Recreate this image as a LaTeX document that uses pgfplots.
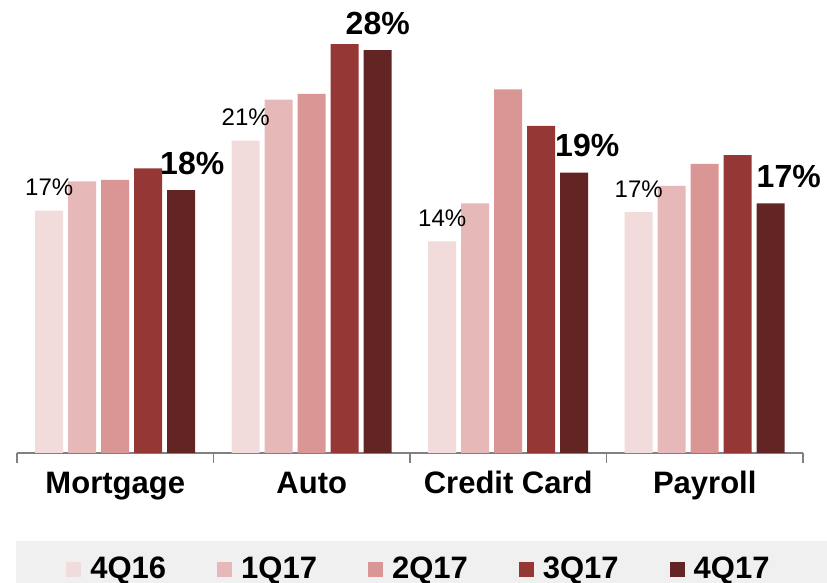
\documentclass[border=0pt]{standalone}
\usepackage{pgfplots}
\pgfplotsset{compat=1.18}
\usepackage{fontspec}
\setmainfont{Liberation Sans}
\definecolor{c1}{RGB}{242,220,219}
\definecolor{c2}{RGB}{230,184,183}
\definecolor{c3}{RGB}{218,150,148}
\definecolor{c4}{RGB}{149,55,53}
\definecolor{c5}{RGB}{99,37,35}
\definecolor{legbg}{RGB}{240,240,240}
\definecolor{axgray}{RGB}{128,128,128}
\begin{document}
\begin{tikzpicture}
\useasboundingbox (0,0) rectangle (413.5pt,291.5pt);
\fill[legbg] (8pt,0) rectangle (413.5pt,21pt);
\begin{axis}[
  at={(8.5pt,65pt)}, anchor=south west,
  scale only axis, width=393pt, height=226.5pt,
  ymin=0, ymax=31.03, xmin=-0.5, xmax=3.5,
  ybar=2.5pt, bar width=14pt,
  axis x line*=bottom, axis y line=none,
  x axis line style={axgray, line width=0.8pt},
  xtick={0,1,2,3},
  xticklabels={Mortgage,Auto,Credit Card,Payroll},
  major tick length=0pt,
  xticklabel style={font=\bfseries\fontsize{15.5}{18}\selectfont, anchor=base, yshift=-20.5pt, inner sep=0pt},
  extra x ticks={-0.5,0.5,1.5,2.5,3.5},
  extra x tick labels={},
  extra x tick style={major tick length=5pt, tick align=outside, tick style={axgray, line width=0.8pt}},
  ytick=\empty,
  legend columns=5,
  legend image code/.code={\fill[#1] (0pt,-4.8pt) rectangle (7.5pt,2.7pt);},
  legend style={at={(0.0623,-0.2773)}, anchor=south west, draw=none, fill=none, inner sep=0pt,
    nodes={inner sep=0pt, text depth=0pt, font=\bfseries\fontsize{15.5}{18}\selectfont},
    /tikz/every odd column/.append style={column sep=4.5pt},
    /tikz/every even column/.append style={column sep=25.5pt}},
]
\addplot[fill=c1, draw=none, nodes near coords, point meta=explicit symbolic,
  every node near coord/.append style={anchor=base, yshift=7.5pt, inner sep=0pt, font=\fontsize{12}{14}\selectfont, text=black}]
  coordinates {(0,16.6)[17\%] (1,21.4)[21\%] (2,14.5)[14\%] (3,16.5)[17\%]};
\addplot[fill=c2, draw=none] coordinates {(0,18.6) (1,24.2) (2,17.1) (3,18.3)};
\addplot[fill=c3, draw=none] coordinates {(0,18.7) (1,24.6) (2,24.9) (3,19.8)};
\addplot[fill=c4, draw=none] coordinates {(0,19.5) (1,28.0) (2,22.4) (3,20.4)};
\addplot[fill=c5, draw=none, nodes near coords, point meta=explicit symbolic,
  every node near coord/.append style={anchor=base, yshift=8pt, inner sep=0pt, font=\bfseries\fontsize{16}{19}\selectfont, text=black},
  coordinate style/.condition={\coordindex==0}{xshift=5.5pt},
  coordinate style/.condition={\coordindex==2}{xshift=6.5pt},
  coordinate style/.condition={\coordindex==3}{xshift=9pt}]
  coordinates {(0,18.0)[18\%] (1,27.6)[28\%] (2,19.2)[19\%] (3,17.1)[17\%]};
\legend{4Q16,1Q17,2Q17,3Q17,4Q17}
\end{axis}
\end{tikzpicture}
\end{document}
